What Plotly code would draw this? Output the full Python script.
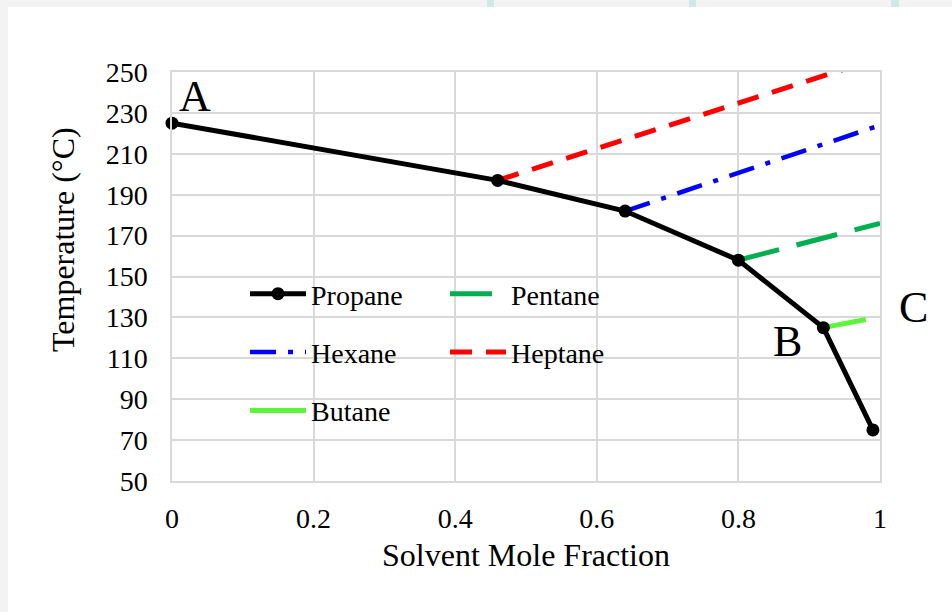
import plotly.graph_objects as go

# ---- data ----
x_propane = [0, 0.46, 0.64, 0.80, 0.92, 0.99]
t_propane = [225, 197, 182, 158, 125, 75]
x_heptane = [0.46, 1.0]
t_heptane = [197, 257]
x_hexane = [0.64, 1.0]
t_hexane = [182, 224]
x_pentane = [0.80, 1.0]
t_pentane = [158, 176]
x_butane = [0.92, 0.98]
t_butane = [125, 129]

x_ticks = [0, 0.2, 0.4, 0.6, 0.8, 1]
x_ticktext = ["0", "0.2", "0.4", "0.6", "0.8", "1"]
y_ticks = [50, 70, 90, 110, 130, 150, 170, 190, 210, 230, 250]

labels = ["A", "B", "C"]
label_x = [0.032, 0.869, 1.047]
label_y = [238.0, 118.0, 135.0]

# ---- layout geometry ----
W, H = 952, 612
L, R, T, B = 172, 72, 72, 131
PW, PH = W - L - R, H - T - B


def px_x(p):
    return (p - L) / PW


def px_y(p):
    return (H - B - p) / PH


FONT = "Liberation Serif"

fig = go.Figure()

fig.add_trace(go.Scatter(x=x_heptane, y=t_heptane, mode="lines", name="Heptane",
                         line=dict(color="#ff0000", width=5, dash="22px,14px"),
                         legend="legend2", legendrank=2, legendgroup="hep"))
fig.add_trace(go.Scatter(x=x_hexane, y=t_hexane, mode="lines", name="Hexane",
                         line=dict(color="#0000ff", width=4.5, dash="26px,12px,5px,12px"),
                         legend="legend", legendrank=2, legendgroup="hex"))
fig.add_trace(go.Scatter(x=x_pentane, y=t_pentane, mode="lines", name="Pentane",
                         line=dict(color="#00b050", width=5, dash="42px,18px"),
                         legend="legend2", legendrank=1, legendgroup="pen"))
fig.add_trace(go.Scatter(x=x_butane, y=t_butane, mode="lines", name="Butane",
                         line=dict(color="#5cf53c", width=5),
                         legend="legend", legendrank=3, legendgroup="but"))
fig.add_trace(go.Scatter(x=x_propane, y=t_propane, mode="lines+markers", name="Propane",
                         line=dict(color="#000000", width=5),
                         marker=dict(color="#000000", size=13),
                         cliponaxis=False,
                         legend="legend", legendrank=1, legendgroup="pro"))

for txt, lx, ly in zip(labels, label_x, label_y):
    fig.add_annotation(x=lx, y=ly, xref="paper", yref="y", text=txt, showarrow=False,
                       xanchor="center", yanchor="middle",
                       font=dict(family=FONT, size=44, color="#000000"))

# y axis title placed as rotated text (it sits above the plot centre in the reference)
fig.add_annotation(x=px_x(63), y=px_y(240), xref="paper", yref="paper",
                   xanchor="center", yanchor="middle",
                   text="Temperature (°C)", textangle=-90, showarrow=False,
                   font=dict(family=FONT, size=32, color="#000000"))

axis_common = dict(showgrid=True, gridcolor="#d9d9d9", gridwidth=1.5,
                   showline=True, linecolor="#d9d9d9", linewidth=1.5, mirror=True,
                   zeroline=False, ticks="",
                   tickfont=dict(family=FONT, size=28, color="#000000"))

fig.update_xaxes(range=[0, 1], tickvals=x_ticks, ticktext=x_ticktext,
                 ticklabelstandoff=12,
                 title=dict(text="Solvent Mole Fraction", font=dict(family=FONT, size=32, color="#000000"), standoff=10),
                 **axis_common)
fig.update_yaxes(range=[50, 250], tickvals=y_ticks,
                 ticklabelstandoff=17,
                 **axis_common)

legend_common = dict(bgcolor="rgba(0,0,0,0)", borderwidth=0, orientation="v",
                     font=dict(family=FONT, size=28, color="#000000"),
                     itemwidth=56, tracegroupgap=19, xanchor="left", yanchor="top",
                     traceorder="grouped", itemclick=False)

shapes = [
    dict(type="rect", xref="paper", yref="paper", layer="below",
         x0=px_x(8), x1=px_x(W + 20), y0=px_y(H + 20), y1=px_y(7),
         fillcolor="#ffffff", line=dict(width=0)),
]
for a, b in [(487, 494), (689, 696), (891, 899)]:
    shapes.append(dict(type="rect", xref="paper", yref="paper", layer="below",
                       x0=px_x(a), x1=px_x(b), y0=px_y(7), y1=px_y(-2),
                       fillcolor="#cdeae4", line=dict(width=0)))

fig.update_layout(
    width=W, height=H,
    margin=dict(l=L, r=R, t=T, b=B, autoexpand=False),
    paper_bgcolor="#f3f3f3", plot_bgcolor="rgba(0,0,0,0)",
    showlegend=True,
    legend=dict(x=px_x(245), y=px_y(269), **legend_common),
    legend2=dict(x=px_x(445), y=px_y(269), **legend_common),
    shapes=shapes,
)

fig.write_html("out.html")
